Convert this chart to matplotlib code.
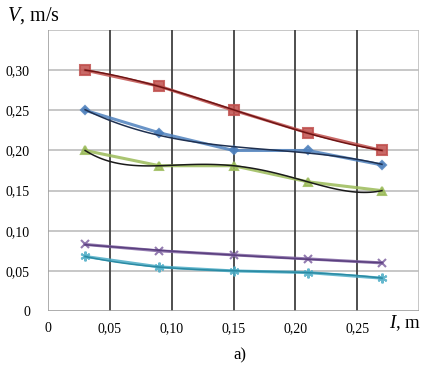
import numpy as np
import matplotlib.pyplot as plt

plt.rcParams['font.family'] = 'Liberation Serif'
plt.rcParams['mathtext.fontset'] = 'custom'
plt.rcParams['mathtext.rm'] = 'Liberation Serif'
plt.rcParams['mathtext.it'] = 'Liberation Serif:italic'

# lengths, m
l = [0.03, 0.09, 0.15, 0.21, 0.27]

v_red = [0.300, 0.280, 0.250, 0.222, 0.200]
v_blue = [0.250, 0.222, 0.200, 0.200, 0.182]
v_green = [0.200, 0.181, 0.181, 0.161, 0.150]
v_purple = [0.083, 0.075, 0.070, 0.065, 0.060]
v_cyan = [0.068, 0.055, 0.050, 0.048, 0.041]

xticks = [0, 0.05, 0.10, 0.15, 0.20, 0.25]
xlabels = ['0', '0,05', '0,10', '0,15', '0,20', '0,25']
yticks = [0, 0.05, 0.10, 0.15, 0.20, 0.25, 0.30, 0.35]
ylabels = ['0', '0,05', '0,10', '0,15', '0,20', '0,25', '0,30', '']

fig = plt.figure(figsize=(4.25, 3.66), dpi=100)
ax = fig.add_axes([0.113, 0.150, 0.873, 0.768])

# values, marker colour, trend colour, marker, size, trend degree
series = [
    (v_red, '#C0504D', '#6E1414', 's', 6.5, 3),
    (v_blue, '#4F81BD', '#1F3050', 'D', 4.5, 3),
    (v_green, '#9BBB59', '#1A1A1A', '^', 6, 4),
    (v_purple, '#8064A2', '#5A3F7E', 'x', 6, 2),
    (v_cyan, '#4BACC6', '#2A8AA3', (6, 2, 0), 7, 3),
]

xs = np.linspace(l[0], l[-1], 100)
for v, col, dark, mk, ms, deg in series:
    ax.plot(l, v, color=col, lw=2.2, alpha=0.85, marker=mk, ms=ms,
            mec=col, mew=1.5, zorder=3)
    fit = np.polyfit(l, v, deg)
    ax.plot(xs, np.polyval(fit, xs), color=dark, lw=1.1, zorder=4)

ax.set_xlim(0, 0.30)
ax.set_ylim(0, 0.35)
ax.set_xticks(xticks)
ax.set_xticklabels(xlabels)
ax.set_yticks(yticks)
ax.set_yticklabels(ylabels)
ax.tick_params(length=0, labelsize=10)
ax.tick_params(axis='y', pad=13)
ax.tick_params(axis='x', pad=8)

for yv in yticks[1:]:
    ax.axhline(yv, color='#BDBDBD', lw=1.2, zorder=1)
for xv in xticks[1:]:
    ax.axvline(xv, color='#404040', lw=1.3, zorder=1)
ax.axvline(0.30, color='#BDBDBD', lw=1.2, zorder=1)

for s in ax.spines.values():
    s.set_visible(False)
ax.axvline(0, color='#A0A0A0', lw=1.2, zorder=1)
ax.axhline(0, color='#A0A0A0', lw=1.2, zorder=1)

fig.text(0.016, 0.957, r'$V$, m/s', fontsize=14.5, va='center')
fig.text(0.915, 0.118, r'$I$, m', fontsize=13.5, va='center')
fig.text(0.565, 0.030, 'a)', fontsize=12, ha='center', va='center')

fig.savefig('out.png', dpi=100)
